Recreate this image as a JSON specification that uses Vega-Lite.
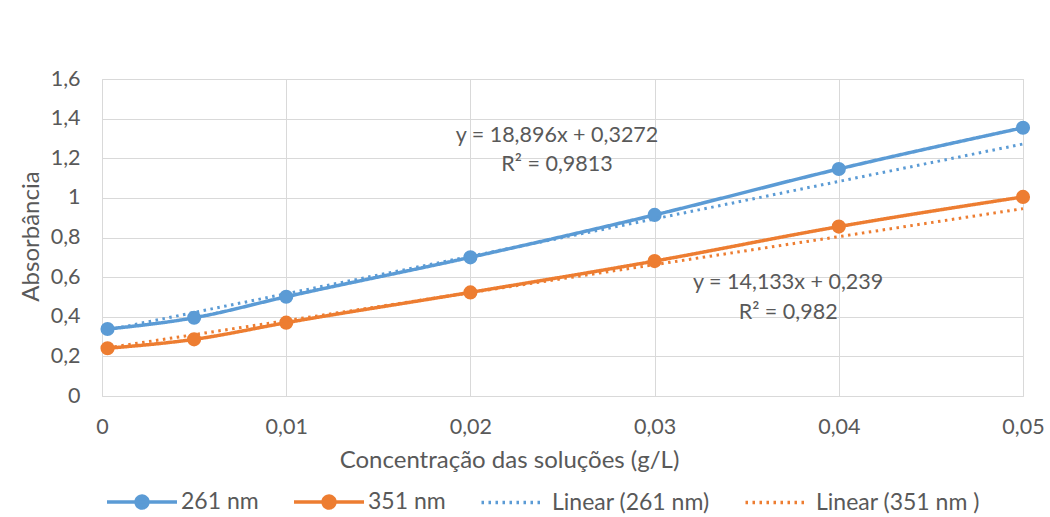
{
  "$schema": "https://vega.github.io/schema/vega-lite/v6.json",
  "width": 921,
  "height": 317,
  "autosize": {"type": "none"},
  "padding": {"left": 102, "top": 79, "right": 27, "bottom": 121},
  "background": "white",
  "config": {
    "font": "Lato",
    "view": {"stroke": "#D9D9D9"},
    "axis": {
      "labelFont": "Lato",
      "titleFont": "Lato",
      "labelColor": "#595959",
      "titleColor": "#595959",
      "gridColor": "#D9D9D9",
      "gridWidth": 1,
      "domain": false,
      "ticks": false,
      "labelFlush": false,
      "labelFontSize": 21.5,
      "titleFontSize": 24,
      "titleFontWeight": "normal"
    }
  },
  "datasets": {
    "meas": [
      {"conc": 0.0003, "abs": 0.338, "serie": "261 nm"},
      {"conc": 0.005, "abs": 0.395, "serie": "261 nm"},
      {"conc": 0.01, "abs": 0.501, "serie": "261 nm"},
      {"conc": 0.02, "abs": 0.700, "serie": "261 nm"},
      {"conc": 0.03, "abs": 0.914, "serie": "261 nm"},
      {"conc": 0.04, "abs": 1.146, "serie": "261 nm"},
      {"conc": 0.05, "abs": 1.354, "serie": "261 nm"},
      {"conc": 0.0003, "abs": 0.241, "serie": "351 nm"},
      {"conc": 0.005, "abs": 0.286, "serie": "351 nm"},
      {"conc": 0.01, "abs": 0.370, "serie": "351 nm"},
      {"conc": 0.02, "abs": 0.523, "serie": "351 nm"},
      {"conc": 0.03, "abs": 0.681, "serie": "351 nm"},
      {"conc": 0.04, "abs": 0.855, "serie": "351 nm"},
      {"conc": 0.05, "abs": 1.005, "serie": "351 nm"}
    ],
    "trend": [
      {"conc": 0.0003, "abs": 0.3329, "serie": "Linear (261 nm)"},
      {"conc": 0.05, "abs": 1.2720, "serie": "Linear (261 nm)"},
      {"conc": 0.0003, "abs": 0.2432, "serie": "Linear (351 nm )"},
      {"conc": 0.05, "abs": 0.9457, "serie": "Linear (351 nm )"}
    ],
    "eq": [
      {"conc": 0.0247, "abs": 1.3125, "label": "y = 18,896x + 0,3272"},
      {"conc": 0.0247, "abs": 1.166, "label": "R² = 0,9813"},
      {"conc": 0.03725, "abs": 0.570, "label": "y = 14,133x + 0,239"},
      {"conc": 0.03725, "abs": 0.419, "label": "R² = 0,982"}
    ]
  },
  "encoding": {
    "x": {
      "field": "conc", "type": "quantitative",
      "scale": {"domain": [0, 0.05], "nice": false, "zero": false},
      "axis": {
        "values": [0, 0.01, 0.02, 0.03, 0.04, 0.05],
        "labelExpr": "replace(format(datum.value, '.2~f'), '.', ',')",
        "title": "Concentração das soluções (g/L)",
        "labelPadding": 20,
        "labelFlush": false,
        "titleX": 407,
        "titleY": 64,
        "titleAlign": "center",
        "titleBaseline": "middle"
      }
    },
    "y": {
      "field": "abs", "type": "quantitative",
      "scale": {"domain": [0, 1.6], "nice": false},
      "axis": {
        "values": [0, 0.2, 0.4, 0.6, 0.8, 1, 1.2, 1.4, 1.6],
        "labelExpr": "replace(format(datum.value, '.1~f'), '.', ',')",
        "title": "Absorbância",
        "labelPadding": 22,
        "labelFlush": false,
        "titleX": -71,
        "titleY": 157,
        "titleAlign": "center",
        "titleBaseline": "middle",
        "titleAngle": -90
      }
    }
  },
  "layer": [
    {
      "data": {"name": "meas"},
      "mark": {"type": "line", "interpolate": "monotone", "strokeWidth": 3.5},
      "encoding": {
        "color": {
          "field": "serie", "type": "nominal",
          "scale": {
            "domain": ["261 nm", "351 nm", "Linear (261 nm)", "Linear (351 nm )"],
            "range": ["#5B9BD5", "#ED7D31", "#5B9BD5", "#ED7D31"]
          },
          "legend": {
            "title": null,
            "orient": "none",
            "legendX": 3,
            "legendY": 386,
            "direction": "horizontal",
            "labelFont": "Lato",
            "labelFontSize": 23,
            "labelColor": "#595959",
            "labelLimit": 400,
            "symbolSize": 4900,
            "symbolType": "stroke",
            "symbolStrokeWidth": 3.5,
            "columnPadding": 28,
            "labelOffset": 2,
            "encode": {
              "symbols": {
                "update": {
                  "shape": {"signal": "indexof(datum.value, 'Linear') === 0 ? 'M-0.9,0L0.9,0' : 'M-1,0L1,0M0.17,0A0.17,0.17,0,1,1,-0.17,0A0.17,0.17,0,1,1,0.17,0Z'"},
                  "fill": {"signal": "datum.value === '261 nm' ? '#5B9BD5' : (datum.value === '351 nm' ? '#ED7D31' : 'transparent')"}
                }
              }
            }
          }
        },
        "strokeDash": {
          "field": "serie", "type": "nominal",
          "scale": {
            "domain": ["261 nm", "351 nm", "Linear (261 nm)", "Linear (351 nm )"],
            "range": [[1, 0], [1, 0], [2.5, 4.5], [2.5, 4.5]]
          }
        }
      }
    },
    {
      "data": {"name": "meas"},
      "mark": {"type": "point", "filled": true, "size": 200, "opacity": 1, "shape": "circle"},
      "encoding": {
        "color": {"field": "serie", "type": "nominal"}
      }
    },
    {
      "data": {"name": "trend"},
      "mark": {"type": "line", "strokeWidth": 3},
      "encoding": {
        "color": {"field": "serie", "type": "nominal"},
        "strokeDash": {"field": "serie", "type": "nominal"}
      }
    },
    {
      "data": {"name": "eq"},
      "mark": {"type": "text", "fontSize": 21.5, "color": "#595959", "align": "center", "baseline": "middle", "font": "Lato"},
      "encoding": {
        "text": {"field": "label"}
      }
    }
  ]
}
